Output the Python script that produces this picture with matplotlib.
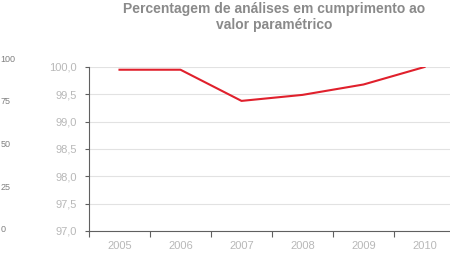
import numpy as np
import matplotlib
matplotlib.use("Agg")
import matplotlib.pyplot as plt
from matplotlib.ticker import FuncFormatter

# dados
anos = ['2005', '2006', '2007', '2008', '2009', '2010']
percentagem = [99.95, 99.95, 99.38, 99.49, 99.68, 100.0]
escala_esq = [0, 25, 50, 75, 100]

plt.rcParams['font.family'] = ['Liberation Sans', 'DejaVu Sans']

fig = plt.figure(figsize=(4.5, 2.77), dpi=100)

# eixo fantasma à esquerda (0-100)
bx = fig.add_axes([0.0, (277 - 229) / 277, 0.01, (229 - 58) / 277])
bx.set_ylim(0, 100)
bx.set_yticks(escala_esq)
bx.set_xticks([])
for s in bx.spines.values():
    s.set_visible(False)
bx.tick_params(axis='y', length=0, labelsize=6.5, labelcolor='#808080', pad=-3)
bx.yaxis.set_ticks_position('right')
bx.patch.set_alpha(0)
for lb in bx.get_yticklabels():
    lb.set_horizontalalignment('left')

ax = fig.add_axes([89 / 450, (277 - 231) / 277, 366 / 450, 164 / 277])
x = np.arange(len(anos))
ax.plot(x, percentagem, color='#e0202c', lw=1.5, solid_joinstyle='round')

ax.set_xlim(-0.5, len(anos) - 0.5)
ax.set_ylim(97, 100)
ax.set_yticks(np.arange(97, 100.01, 0.5))
ax.yaxis.set_major_formatter(FuncFormatter(lambda v, p: f'{v:.1f}'.replace('.', ',')))
ax.set_xticks(np.arange(-0.5, len(anos), 1.0))
ax.set_xticklabels([])
ax.set_xticks(x, minor=True)
ax.set_xticklabels(anos, minor=True)
ax.tick_params(axis='x', which='minor', length=0, pad=7)
ax.tick_params(axis='x', which='major', length=4, color='#606060', width=0.8)
ax.tick_params(axis='y', length=3, color='#606060', width=0.8, pad=6)
ax.tick_params(labelsize=8, labelcolor='#b8b8b8', which='both')

ax.grid(axis='y', color='#e2e2e2', lw=0.8)
ax.set_axisbelow(True)
for side in ['top', 'right']:
    ax.spines[side].set_visible(False)
for side in ['left', 'bottom']:
    ax.spines[side].set_color('#606060')
    ax.spines[side].set_linewidth(0.8)

fig.text(274 / 450, 1 - 17 / 277,
         'Percentagem de análises em cumprimento ao\nvalor paramétrico',
         ha='center', va='center', fontsize=10, fontweight='bold',
         color='#8a8a8a', linespacing=1.2)

fig.savefig('out.png', dpi=100)
